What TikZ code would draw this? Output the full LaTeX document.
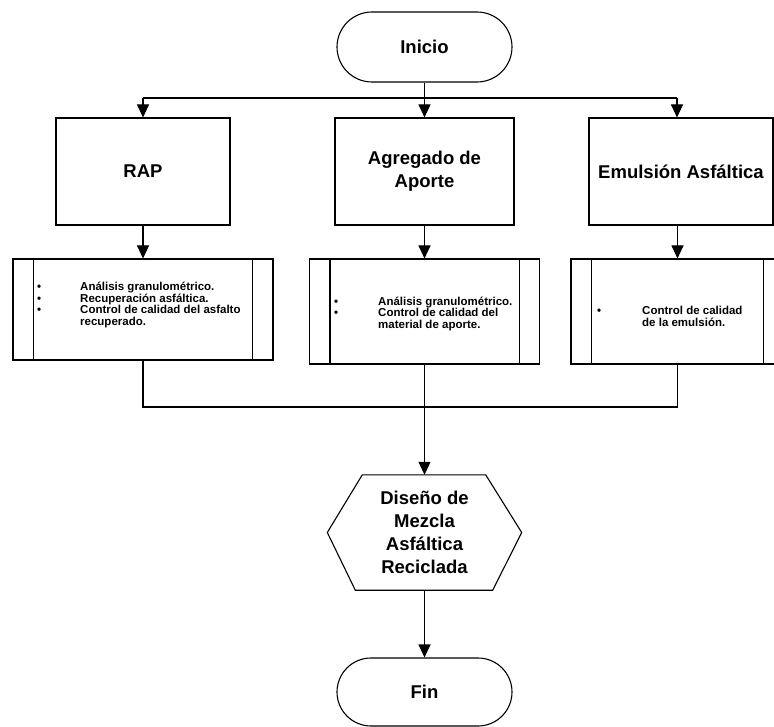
\documentclass[tikz,border=0pt]{standalone}
\usepackage{fontspec}
\setmainfont{Liberation Sans}
\usetikzlibrary{arrows.meta}

\tikzset{
  flow/.style={line width=1.1pt},
  arr/.style={flow, -{Triangle[length=13pt,width=12pt]}},
  bigfont/.style={font=\fontsize{18.5}{23}\selectfont\bfseries},
  terminal/.style={draw, line width=1.1pt, bigfont, minimum width=175pt,
                   minimum height=70pt, rounded corners=35pt},
  stage/.style={draw, line width=1.1pt, bigfont, align=center,
                minimum height=107pt, inner sep=2pt},
  predef/.style={draw, line width=1.1pt},
  notes/.style={anchor=base west, inner sep=0pt,
                font=\fontsize{11.5}{10.5}\selectfont\bfseries},
  hexbox/.style={bigfont, align=center, minimum width=194pt,
                 minimum height=115pt, inner sep=0pt}
}

\begin{document}
\begin{tikzpicture}[x=1pt, y=-1pt]
  \useasboundingbox (0,0) rectangle (774,727);
  \clip (0,0) rectangle (774,727);
  \fill[white] (0,0) rectangle (774,727);

  % start
  \node[terminal] (ini) at (424.5,47) {Inicio};

  % the three inputs
  \node[stage, minimum width=174pt] (rap) at (143,171.5) {RAP};
  \node[stage, minimum width=179pt] (agr) at (424.5,171.5) {Agregado de\\Aporte};
  \node[stage, minimum width=184pt] (emu) at (681,171.5) {Emulsión Asfáltica};

  % tests carried out on each input
  \node[predef, minimum width=260pt, minimum height=101pt] (p1) at (143,309.5) {};
  \node[predef, minimum width=230pt, minimum height=105pt] (p2) at (424.5,311.5) {};
  \node[predef, minimum width=213pt, minimum height=105pt] (p3) at (677.5,311.5) {};
  \foreach \n in {p1,p2,p3} {
    \draw[flow] ([xshift=21pt]\n.north west) -- ([xshift=21pt]\n.south west);
    \draw[flow] ([xshift=-21pt]\n.north east) -- ([xshift=-21pt]\n.south east);
  }

  \node[notes] (t1) at (37,290.5) {\begin{tabular}[t]{@{}p{43pt}@{}l@{}}
    \textbullet & Análisis granulométrico.\\
    \textbullet & Recuperación asfáltica.\\
    \textbullet & Control de calidad del asfalto\\
                & recuperado.
  \end{tabular}};
  \node[notes] (t2) at (334,305.5) {\begin{tabular}[t]{@{}p{44pt}@{}l@{}}
    \textbullet & Análisis granulométrico.\\
    \textbullet & Control de calidad del\\
                & material de aporte.
  \end{tabular}};
  \node[notes] (t3) at (597,315) {\begin{tabular}[t]{@{}p{45pt}@{}l@{}}
    \textbullet & Control de calidad\\
                & de la emulsión.
  \end{tabular}};

  % mix design
  \node[hexbox] (mix) at (424.5,532.5) {Diseño de\\Mezcla\\Asfáltica\\Reciclada};
  \draw[flow] ([xshift=35pt]mix.north west) -- ([xshift=-36pt]mix.north east)
    -- (mix.east) -- ([xshift=-29pt]mix.south east)
    -- ([xshift=28pt]mix.south west) -- (mix.west) -- cycle;

  % end
  \node[terminal, minimum height=68pt, rounded corners=34pt] (fin) at (424.5,692) {Fin};

  % distribution line below the start
  \coordinate (jl) at (143,98);
  \coordinate (jr) at (677,98);
  \draw[flow] (ini.south) -- (ini.south |- jl);
  \draw[flow] (jl) -- (jr);
  \draw[arr] (jl) -- (rap.north);
  \draw[arr] (ini.south |- jl) -- (agr.north);
  \draw[arr] (jr) -- (jr |- emu.north);

  % inputs to their tests
  \draw[arr] (rap.south) -- (p1.north);
  \draw[arr] (agr.south) -- (p2.north);
  \draw[arr] (p3.north |- emu.south) -- (p3.north);

  % collecting line
  \coordinate (jb) at (424.5,407);
  \draw[flow] (p1.south) -- (p1.south |- jb) -- (p3.south |- jb) -- (p3.south);
  \draw[arr] (p2.south) -- (mix.north);
  \draw[arr] (mix.south) -- (fin.north);
\end{tikzpicture}
\end{document}
